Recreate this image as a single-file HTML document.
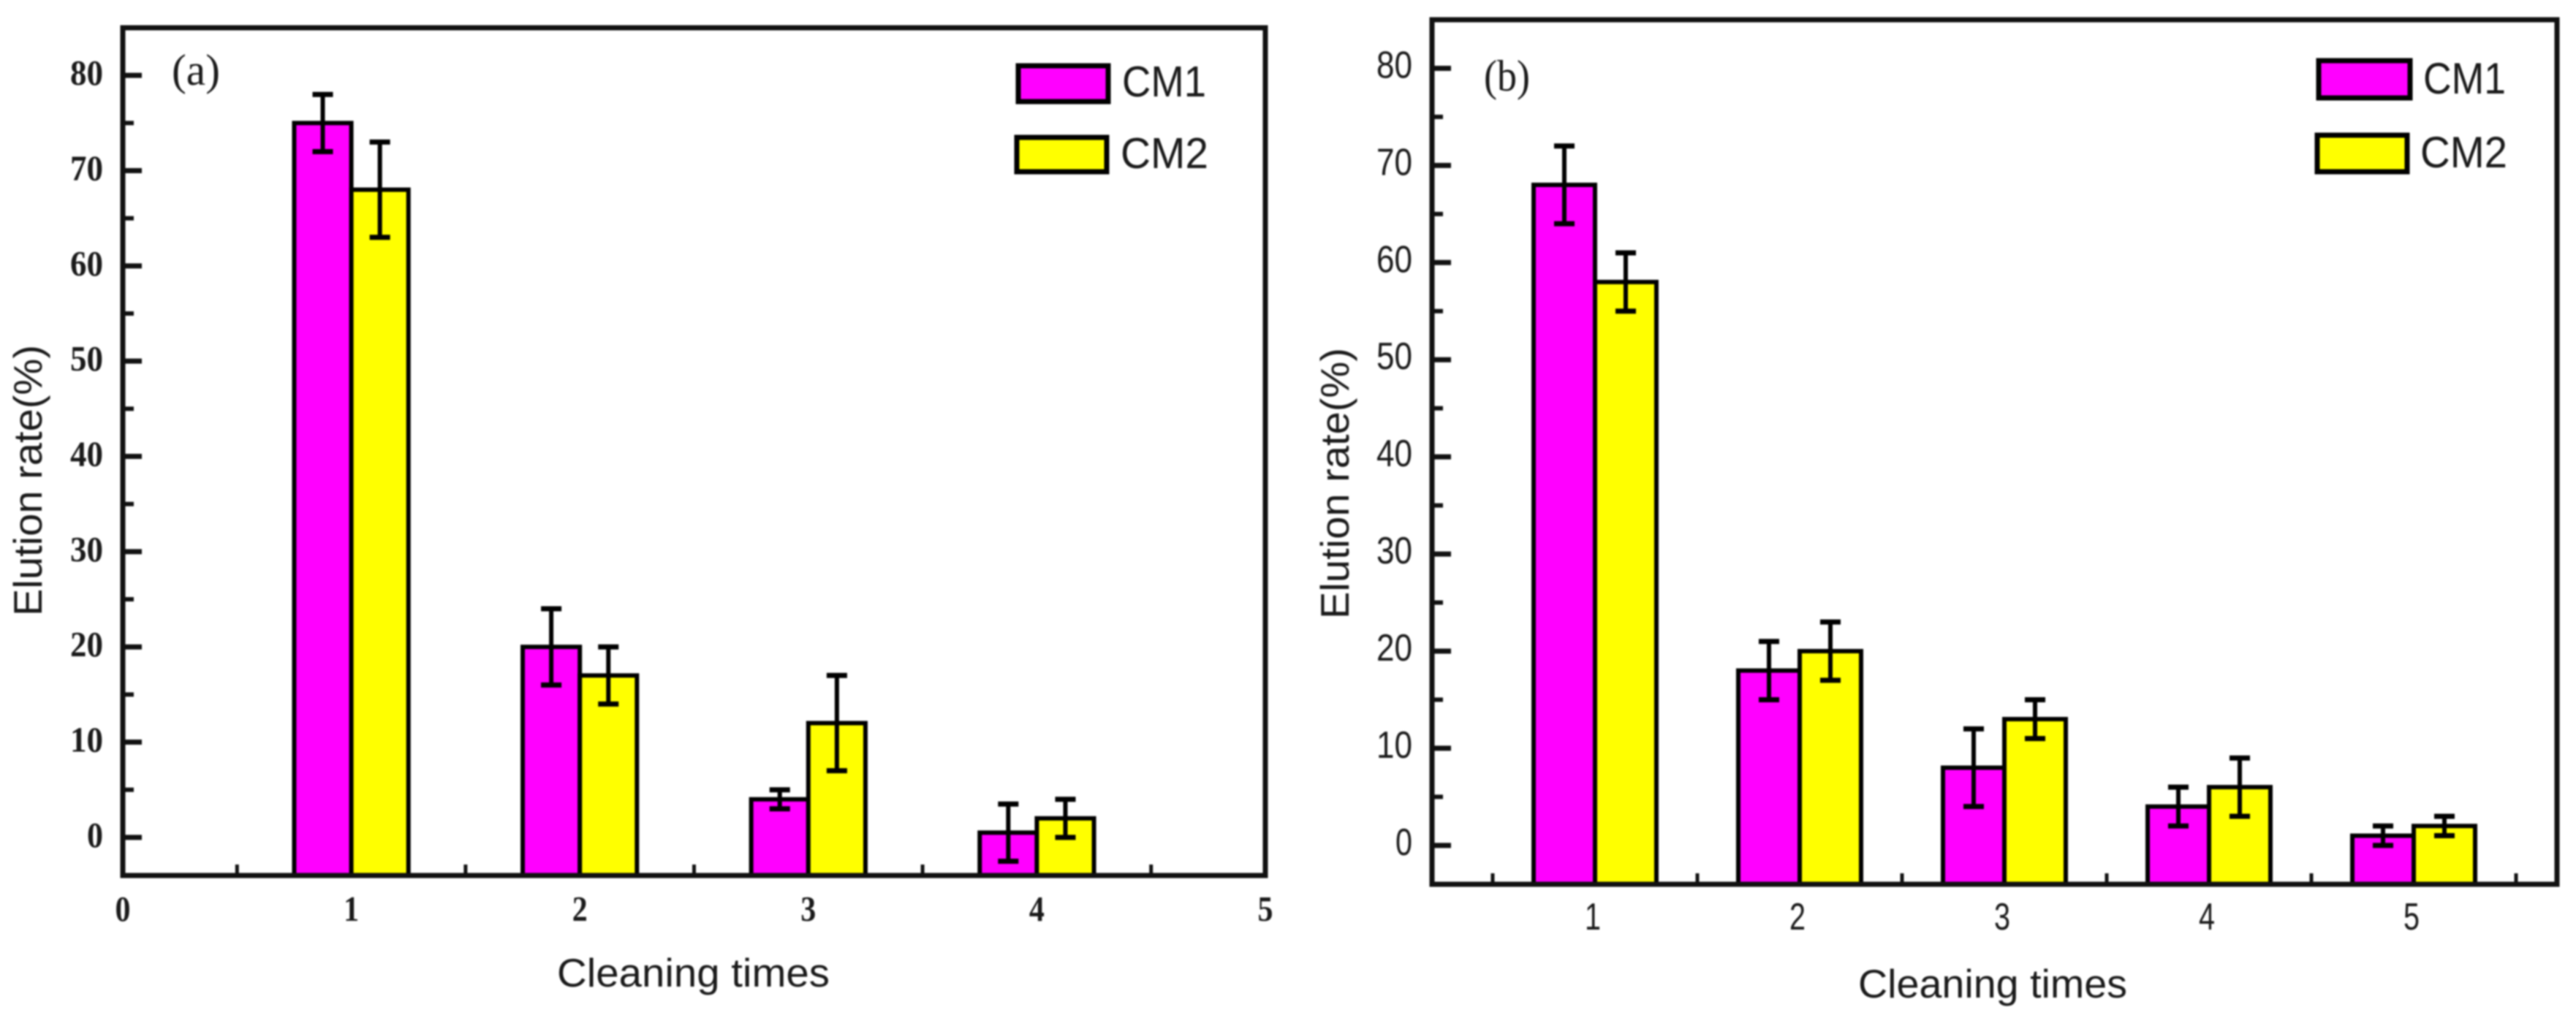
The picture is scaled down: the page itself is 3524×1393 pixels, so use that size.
<!DOCTYPE html>
<html lang="en">
<head>
<meta charset="utf-8">
<title>Elution rate vs cleaning times</title>
<style>
html,body{margin:0;padding:0;background:#fff;width:3524px;height:1393px;overflow:hidden}
svg{display:block;filter:blur(1.1px)}
.sans{font-family:"Liberation Sans",sans-serif;fill:#1a1a1a}
.serif{font-family:"Liberation Serif",serif;fill:#1a1a1a}
</style>
</head>
<body>
<svg id="figure" xmlns="http://www.w3.org/2000/svg" width="3524" height="1393" viewBox="0 0 3524 1393">
  <g id="panel-a"></g>
  <g id="panel-b"></g>

  <text class="serif" x="235" y="116" font-size="60" textLength="66" lengthAdjust="spacingAndGlyphs">(a)</text>
  <text class="sans" x="762" y="1350" font-size="55" textLength="373" lengthAdjust="spacingAndGlyphs">Cleaning times</text>
  <text class="sans" transform="translate(57,843) rotate(-90)" font-size="55" textLength="371" lengthAdjust="spacingAndGlyphs">Elution rate(%)</text>
  <text class="sans" x="1535" y="132" font-size="59" textLength="115" lengthAdjust="spacingAndGlyphs">CM1</text>
  <text class="sans" x="1533" y="230" font-size="59" textLength="120" lengthAdjust="spacingAndGlyphs">CM2</text>
  <rect x="1393" y="90" width="123" height="49" fill="#ff00ff" stroke="#000" stroke-width="7"/>
  <rect x="1391" y="188" width="123" height="47" fill="#ffff00" stroke="#000" stroke-width="7"/>

  <text class="serif" x="2030" y="124" font-size="60" textLength="63" lengthAdjust="spacingAndGlyphs">(b)</text>
  <text class="sans" x="2542" y="1365" font-size="55" textLength="368" lengthAdjust="spacingAndGlyphs">Cleaning times</text>
  <text class="sans" transform="translate(1845,847) rotate(-90)" font-size="55" textLength="371" lengthAdjust="spacingAndGlyphs">Elution rate(%)</text>
  <text class="sans" x="3315" y="128" font-size="60" textLength="113" lengthAdjust="spacingAndGlyphs">CM1</text>
  <text class="sans" x="3311" y="229" font-size="60" textLength="119" lengthAdjust="spacingAndGlyphs">CM2</text>
  <rect x="3172" y="83" width="125" height="51" fill="#ff00ff" stroke="#000" stroke-width="7"/>
  <rect x="3170" y="185" width="123" height="50" fill="#ffff00" stroke="#000" stroke-width="7"/>
</svg>

<script>
// Panel (a) data
const aCategories = [1, 2, 3, 4];
const aCM1 = [75, 20, 4, 0.5];
const aCM1Err = [3, 4, 1, 3];
const aCM2 = [68, 17, 12, 2];
const aCM2Err = [5, 3, 5, 2];
const aXTickLabels = [0, 1, 2, 3, 4, 5];
const aXMinorTicks = [0.5, 1, 1.5, 2, 2.5, 3, 3.5, 4, 4.5];
const aYTickLabels = [0, 10, 20, 30, 40, 50, 60, 70, 80];
const aYMinorTicks = [5, 15, 25, 35, 45, 55, 65, 75];

// Panel (b) data
const bCategories = [1, 2, 3, 4, 5];
const bCM1 = [68, 18, 8, 4, 1];
const bCM1Err = [4, 3, 4, 2, 1];
const bCM2 = [58, 20, 13, 6, 2];
const bCM2Err = [3, 3, 2, 3, 1];
const bXTickLabels = [1, 2, 3, 4, 5];
const bXMinorTicks = [0.5, 1, 1.5, 2, 2.5, 3, 3.5, 4, 4.5, 5, 5.5];
const bYTickLabels = [0, 10, 20, 30, 40, 50, 60, 70, 80];
const bYMinorTicks = [5, 15, 25, 35, 45, 55, 65, 75];

const NS = 'http://www.w3.org/2000/svg';
function make(tag, attrs, parent) {
  const node = document.createElementNS(NS, tag);
  for (const k in attrs) node.setAttribute(k, attrs[k]);
  parent.appendChild(node);
  return node;
}

function drawPanel(p) {
  const g = document.getElementById(p.id);
  const x = v => p.xr[0] + (v - p.xd[0]) * (p.xr[1] - p.xr[0]) / (p.xd[1] - p.xd[0]);
  const y = v => p.yr[0] + (v - p.yd[0]) * (p.yr[1] - p.yr[0]) / (p.yd[1] - p.yd[0]);
  const left = x(p.xd[0]), right = x(p.xd[1]), bottom = y(p.yd[0]), top = y(p.yd[1]);

  // y ticks
  p.yMajor.forEach(v => {
    const t = make('line', {x1: left, x2: left + 26, y1: y(v), y2: y(v), stroke: '#111', 'stroke-width': 7}, g);
    
    
    const s = String(v);
    const lab = make('text', {class: p.fontClass, x: p.yLabelRight, y: y(v) + 13, 'font-size': p.yFont, 'font-weight': p.weight, 'text-anchor': 'end', textLength: s.length > 1 ? p.yW2 : p.yW1, lengthAdjust: 'spacingAndGlyphs'}, g);
    
    
    lab.textContent = s;
  });
  p.yMinor.forEach(v => {
    const t = make('line', {x1: left, x2: left + 15, y1: y(v), y2: y(v), stroke: '#111', 'stroke-width': 6}, g);
    
    
  });

  // x ticks
  p.xTicks.forEach(v => {
    const t = make('line', {x1: x(v), x2: x(v), y1: bottom, y2: bottom - 15, stroke: '#111', 'stroke-width': 5}, g);
    
    
  });
  p.xLabels.forEach(v => {
    const lab = make('text', {class: p.fontClass, x: x(v) + p.xLabelDx, y: p.xLabelY, 'font-size': p.xFont, 'font-weight': p.weight, 'text-anchor': 'middle', textLength: p.yW1 - 1, lengthAdjust: 'spacingAndGlyphs'}, g);
    
    
    lab.textContent = String(v);
  });

  // bars
  const series = [
    {key: 'cm1', vals: p.cm1, errs: p.cm1Err, fill: '#ff00ff', dir: -1},
    {key: 'cm2', vals: p.cm2, errs: p.cm2Err, fill: '#ffff00', dir: 0}
  ];
  series.forEach(s => {
    p.cats.forEach((c, i) => {
      const bx = x(c + s.dir * p.barW);
      const w = x(c + p.barW) - x(c);
      const r = make('rect', {x: bx, y: y(s.vals[i]), width: w, height: bottom - y(s.vals[i]), fill: s.fill, stroke: '#000', 'stroke-width': 6}, g);
      
      
    });
  });

  // error bars (on top of all bars)
  series.forEach(s => {
    p.cats.forEach((c, i) => {
      const cx = x(c + s.dir * p.barW) + (x(c + p.barW) - x(c)) / 2;
      const hi = y(s.vals[i] + s.errs[i]), lo = y(s.vals[i] - s.errs[i]);
      const eg = make('g', {stroke: '#000'}, g);
      
      
      make('line', {x1: cx, x2: cx, y1: hi, y2: lo, 'stroke-width': 6}, eg);
      make('line', {x1: cx - 14, x2: cx + 14, y1: hi, y2: hi, 'stroke-width': 7}, eg);
      make('line', {x1: cx - 14, x2: cx + 14, y1: lo, y2: lo, 'stroke-width': 7}, eg);
    });
  });

  // frame
  const f = make('rect', {x: left, y: top, width: right - left, height: bottom - top, fill: 'none', stroke: '#111', 'stroke-width': 7}, g);
  
  
}

drawPanel({
  id: 'panel-a', cats: aCategories,
  cm1: aCM1, cm1Err: aCM1Err, cm2: aCM2, cm2Err: aCM2Err,
  xTicks: aXMinorTicks, xLabels: aXTickLabels, yMajor: aYTickLabels, yMinor: aYMinorTicks,
  xd: [0, 5], xr: [168, 1731], yd: [-4, 85], yr: [1198, 38], barW: 0.25,
  fontClass: 'serif', weight: 'bold', yFont: 49, xFont: 49, yW2: 45, yW1: 22,
  yLabelRight: 141, xLabelY: 1260, xLabelDx: 0
});

drawPanel({
  id: 'panel-b', cats: bCategories,
  cm1: bCM1, cm1Err: bCM1Err, cm2: bCM2, cm2Err: bCM2Err,
  xTicks: bXMinorTicks, xLabels: bXTickLabels, yMajor: bYTickLabels, yMinor: bYMinorTicks,
  xd: [0.2036, 5.7], xr: [1959, 3498], yd: [-4, 85], yr: [1210, 27], barW: 0.3,
  fontClass: 'sans', weight: 'normal', yFont: 52, xFont: 52, yW2: 49, yW1: 23,
  yLabelRight: 1932, xLabelY: 1272, xLabelDx: -3
});
</script>
</body>
</html>
